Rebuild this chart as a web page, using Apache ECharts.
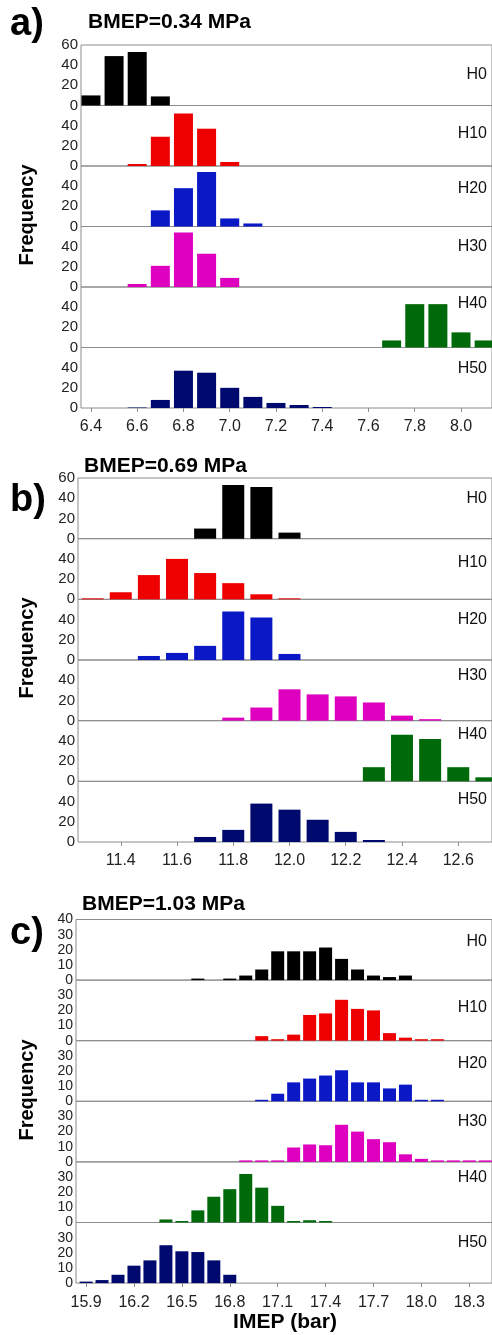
<!DOCTYPE html>
<html>
<head>
<meta charset="utf-8">
<script src="https://cdn.jsdelivr.net/npm/echarts@6/dist/echarts.min.js"></script>
<style>
  html, body { margin: 0; padding: 0; background: #fff; }
  #chart { width: 492px; height: 1335px; }
</style>
</head>
<body>
<div id="chart"></div>
<script>
// ---- data (bin centres in bar, frequencies) ----
var cases = ['H0', 'H10', 'H20', 'H30', 'H40', 'H50'];

var binsA = [6.4, 6.5, 6.6, 6.7, 6.8, 6.9, 7.0, 7.1, 7.2, 7.3, 7.4, 7.5, 7.6, 7.7, 7.8, 7.9, 8.0, 8.1];
var a_H0  = [10, 49, 53, 9, 0, 0, 0, 0, 0, 0, 0, 0, 0, 0, 0, 0, 0, 0];
var a_H10 = [0, 0, 2, 29, 52, 37, 4, 0, 0, 0, 0, 0, 0, 0, 0, 0, 0, 0];
var a_H20 = [0, 0, 0, 16, 38, 54, 8, 3, 0, 0, 0, 0, 0, 0, 0, 0, 0, 0];
var a_H30 = [0, 0, 3, 21, 54, 33, 9, 0, 0, 0, 0, 0, 0, 0, 0, 0, 0, 0];
var a_H40 = [0, 0, 0, 0, 0, 0, 0, 0, 0, 0, 0, 0, 0, 7, 43, 43, 15, 7];
var a_H50 = [0, 0, 0.5, 8, 37, 35, 20, 11, 5, 3, 1, 0, 0, 0, 0, 0, 0, 0];
var ticksA = [6.4, 6.6, 6.8, 7.0, 7.2, 7.4, 7.6, 7.8, 8.0];

var binsB = [11.3, 11.4, 11.5, 11.6, 11.7, 11.8, 11.9, 12.0, 12.1, 12.2, 12.3, 12.4, 12.5, 12.6, 12.7];
var b_H0  = [0, 0, 0, 0, 10, 53, 51, 6, 0, 0, 0, 0, 0, 0, 0];
var b_H10 = [1, 7, 24, 40, 26, 16, 5, 1, 0, 0, 0, 0, 0, 0, 0];
var b_H20 = [0, 0, 4, 7, 14, 48, 42, 6, 0, 0, 0, 0, 0, 0, 0];
var b_H30 = [0, 0, 0, 0, 0, 3, 13, 31, 26, 24, 18, 5, 1.5, 0, 0];
var b_H40 = [0, 0, 0, 0, 0, 0, 0, 0, 0, 0, 14, 46, 42, 14, 4];
var b_H50 = [0, 0, 0, 0, 5, 12, 38, 32, 22, 10, 2, 0, 0, 0, 0];
var ticksB = [11.4, 11.6, 11.8, 12.0, 12.2, 12.4, 12.6];

var binsC = [15.9, 16.0, 16.1, 16.2, 16.3, 16.4, 16.5, 16.6, 16.7, 16.8, 16.9, 17.0, 17.1,
             17.2, 17.3, 17.4, 17.5, 17.6, 17.7, 17.8, 17.9, 18.0, 18.1, 18.2, 18.3, 18.4];
var c_H0  = [0, 0, 0, 0, 0, 0, 0, 1, 0, 1, 3, 7, 19, 19, 19, 21.5, 14, 7, 3, 2, 3, 0, 0, 0, 0, 0];
var c_H10 = [0, 0, 0, 0, 0, 0, 0, 0, 0, 0, 0, 3, 1, 4, 17, 18, 27, 21, 20, 5, 2, 1, 1, 0, 0, 0];
var c_H20 = [0, 0, 0, 0, 0, 0, 0, 0, 0, 0, 0, 1, 5, 12.5, 15, 17, 20.5, 12.5, 12.5, 8.5, 11, 1, 1, 0, 0, 0];
var c_H30 = [0, 0, 0, 0, 0, 0, 0, 0, 0, 0, 1, 1, 1, 9.5, 11.5, 11, 24.5, 20, 15, 13, 5, 2, 1, 1, 1, 1];
var c_H40 = [0, 0, 0, 0, 0, 2, 1, 8, 17, 22, 32, 23, 11, 1, 1.5, 1, 0, 0, 0, 0, 0, 0, 0, 0, 0, 0];
var c_H50 = [1, 2, 5.5, 11.5, 15, 25, 21, 20.5, 15, 5.5, 0, 0, 0, 0, 0, 0, 0, 0, 0, 0, 0, 0, 0, 0, 0, 0];
var ticksC = [15.9, 16.2, 16.5, 16.8, 17.1, 17.4, 17.7, 18.0, 18.3];

var colors = ['#000000', '#ee0000', '#0b18c6', '#de00be', '#006a0a', '#000a6e'];

var FONT = '"Liberation Sans", Arial, sans-serif';

// ---- panel layout ----
var panels = [
    { tag: 'a)', title: 'BMEP=0.34 MPa', bins: binsA, rows: [a_H0, a_H10, a_H20, a_H30, a_H40, a_H50],
      ticks: ticksA, min: 6.357, max: 8.134, ymax: 60, yint: 20, barW: 19, yFont: 15,
      left: 81, top: 45, step: 60.5, tagY: 25, titleX: 88, titleY: 22, freqY: 215,
      hOff: [30, 28, 23, 20, 17, 21] },
    { tag: 'b)', title: 'BMEP=0.69 MPa', bins: binsB, rows: [b_H0, b_H10, b_H20, b_H30, b_H40, b_H50],
      ticks: ticksB, min: 11.248, max: 12.72, ymax: 60, yint: 20, barW: 22, yFont: 15,
      left: 78, top: 478, step: 60.67, tagY: 501, titleX: 84, titleY: 466, freqY: 648,
      hOff: [21, 24, 20, 16, 14, 18] },
    { tag: 'c)', title: 'BMEP=1.03 MPa', bins: binsC, rows: [c_H0, c_H10, c_H20, c_H30, c_H40, c_H50],
      ticks: ticksC, min: 15.837, max: 18.442, ymax: 40, yint: 10, barW: 13, yFont: 14,
      left: 76, top: 919.5, step: 60.6, tagY: 934, titleX: 82, titleY: 904, freqY: 1090,
      hOff: [22, 27, 23, 20, 16, 20] }
];

var grids = [], xAxes = [], yAxes = [], series = [], texts = [];
var k = 0;

panels.forEach(function (p) {
    texts.push({ type: 'text', x: 10, y: p.tagY,
        style: { text: p.tag, font: 'bold 38px ' + FONT, fill: '#000',
                 verticalAlign: 'middle', textVerticalAlign: 'middle' } });
    texts.push({ type: 'text', x: p.titleX, y: p.titleY,
        style: { text: p.title, font: 'bold 21px ' + FONT, fill: '#000',
                 verticalAlign: 'middle', textVerticalAlign: 'middle' } });
    texts.push({ type: 'text', x: 27, y: p.freqY, rotation: Math.PI / 2,
        style: { text: 'Frequency', font: 'bold 20px ' + FONT, fill: '#000',
                 align: 'center', textAlign: 'center', verticalAlign: 'middle', textVerticalAlign: 'middle' } });

    p.rows.forEach(function (vals, ri) {
        var top = p.top + ri * p.step;
        var last = ri === p.rows.length - 1;
        grids.push({ left: p.left, right: -2, top: top, height: p.step,
                     show: true, borderColor: '#8c8c8c', borderWidth: 1, backgroundColor: 'transparent' });
        xAxes.push({
            gridIndex: k, type: 'value', min: p.min, max: p.max,
            axisLine: { show: false },
            splitLine: { show: false },
            axisTick: { show: last, length: 4, lineStyle: { color: '#8c8c8c' }, customValues: p.ticks },
            axisLabel: { show: last, customValues: p.ticks, margin: 11, fontSize: 16, color: '#222',
                         fontFamily: FONT,
                         formatter: function (v) { return v.toFixed(1); } }
        });
        yAxes.push({
            gridIndex: k, type: 'value', min: 0, max: p.ymax, interval: p.yint,
            axisLine: { show: false },
            splitLine: { show: false },
            axisTick: { show: false },
            axisLabel: { margin: 3, fontSize: p.yFont, color: '#222', showMaxLabel: ri === 0,
                         fontFamily: FONT }
        });
        series.push({
            type: 'bar', name: cases[ri], xAxisIndex: k, yAxisIndex: k,
            barWidth: p.barW, clip: true, silent: true,
            itemStyle: { color: colors[ri] },
            data: p.bins.map(function (x, i) { return [x, vals[i]]; })
                        .filter(function (d) { return d[1] > 0; })
        });
        texts.push({ type: 'text', x: 487, y: top + p.hOff[ri],
            style: { text: cases[ri], font: '16px ' + FONT, fill: '#111',
                     align: 'right', textAlign: 'right', verticalAlign: 'middle', textVerticalAlign: 'middle' } });
        k++;
    });
});

texts.push({ type: 'text', x: 285, y: 1322,
    style: { text: 'IMEP (bar)', font: 'bold 21px ' + FONT, fill: '#000',
             align: 'center', textAlign: 'center', verticalAlign: 'middle', textVerticalAlign: 'middle' } });

var chart = echarts.init(document.getElementById('chart'), null, { renderer: 'canvas' });
chart.setOption({
    animation: false,
    backgroundColor: '#fff',
    grid: grids,
    xAxis: xAxes,
    yAxis: yAxes,
    series: series,
    graphic: texts
});
</script>
</body>
</html>
